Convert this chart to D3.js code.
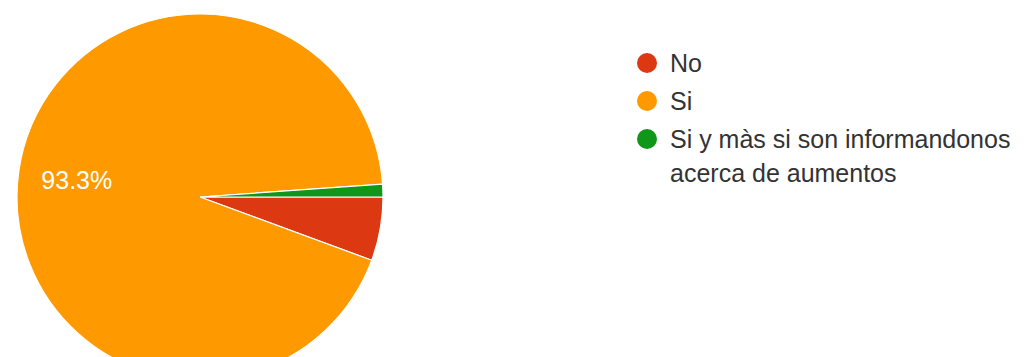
<!DOCTYPE html>
<html>
<head>
<meta charset="utf-8">
<script src="https://cdn.jsdelivr.net/npm/d3@7"></script>
<style>
  html, body { margin: 0; padding: 0; background: #fff; }
  svg { display: block; }
  text { font-family: "Liberation Sans", Arial, sans-serif; }
</style>
</head>
<body>
<svg id="chart" width="1024" height="357"></svg>
<script>
// Survey answers and response counts
const categories = ["No", "Si", "Si y màs si son informandonos acerca de aumentos"];
const counts = [5, 83, 1];
const colors = ["#dc3912", "#ff9900", "#109618"];
// Legend entries, wrapped onto lines
const legendLines = [["No"], ["Si"], ["Si y màs si son informandonos", "acerca de aumentos"]];

const svg = d3.select("#chart");
const cx = 200, cy = 197, radius = 183;

const total = d3.sum(counts);
const data = categories.map((c, i) => ({ name: c, value: counts[i], color: colors[i] }));

// Slices start at 3 o'clock and run clockwise
const pie = d3.pie()
  .sort(null)
  .value(d => d.value)
  .startAngle(Math.PI / 2)
  .endAngle(Math.PI / 2 + 2 * Math.PI);

const arc = d3.arc().innerRadius(0).outerRadius(radius);

const g = svg.append("g").attr("transform", `translate(${cx},${cy})`);

const arcs = pie(data);
g.selectAll("path.slice")
  .data(arcs)
  .enter().append("path")
  .attr("class", "slice")
  .attr("d", arc)
  .attr("fill", d => d.data.color)
  .attr("stroke", "#fff")
  .attr("stroke-width", 1.2);

// Percentage label on slices large enough to hold one
const fmt = d3.format(".1f");
const labelArc = d3.arc().innerRadius(radius * 0.68).outerRadius(radius * 0.68);
g.selectAll("text.pct")
  .data(arcs.filter(d => d.data.value / total > 0.1))
  .enter().append("text")
  .attr("class", "pct")
  .attr("x", d => labelArc.centroid(d)[0])
  .attr("y", d => labelArc.centroid(d)[1] + 9)
  .attr("text-anchor", "middle")
  .attr("font-size", 25)
  .attr("fill", "#ffffff")
  .text(d => fmt(d.data.value / total * 100) + "%");

// Legend
const legendX = 647, legendTop = 63, rowGap = 38, lineGap = 34;
let y = legendTop;
const legend = svg.append("g");
data.forEach((d, i) => {
  legend.append("circle")
    .attr("cx", legendX)
    .attr("cy", y)
    .attr("r", 10)
    .attr("fill", d.color);
  legendLines[i].forEach((line, j) => {
    legend.append("text")
      .attr("x", legendX + 23)
      .attr("y", y + 9 + j * lineGap)
      .attr("font-size", 25)
      .attr("fill", "#333")
      .text(line);
  });
  y += rowGap + (legendLines[i].length - 1) * lineGap;
});
</script>
</body>
</html>
